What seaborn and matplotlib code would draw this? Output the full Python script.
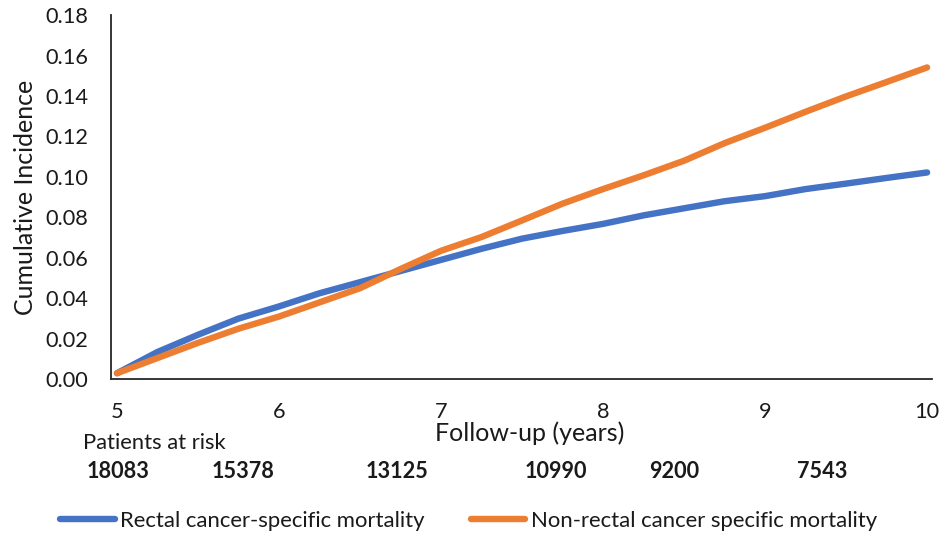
import matplotlib
matplotlib.use("Agg")
import matplotlib.pyplot as plt
import matplotlib.transforms as mtransforms
from matplotlib.lines import Line2D
import seaborn as sns
import pandas as pd

years = [5.00, 5.25, 5.50, 5.75, 6.00, 6.25, 6.50, 6.75, 7.00, 7.25, 7.50,
         7.75, 8.00, 8.25, 8.50, 8.75, 9.00, 9.25, 9.50, 9.75, 10.00]
rectal = [0.003, 0.0135, 0.022, 0.030, 0.036, 0.0425, 0.048, 0.0535, 0.059, 0.0645, 0.0695,
          0.0733, 0.0768, 0.081, 0.0845, 0.088, 0.0905, 0.094, 0.0967, 0.0995, 0.1022]
nonrectal = [0.003, 0.0105, 0.018, 0.025, 0.031, 0.038, 0.045, 0.0545, 0.0635, 0.0703, 0.0785,
             0.0868, 0.094, 0.1008, 0.108, 0.1167, 0.1243, 0.1322, 0.1398, 0.1469, 0.1541]
series_names = ["Rectal cancer-specific mortality", "Non-rectal cancer specific mortality"]
y_ticks = [0.00, 0.02, 0.04, 0.06, 0.08, 0.10, 0.12, 0.14, 0.16, 0.18]
x_ticks = [5, 6, 7, 8, 9, 10]
risk_positions = [5.006, 5.78, 6.73, 7.71, 8.44, 9.35]
risk_counts = ["18083", "15378", "13125", "10990", "9200", "7543"]

df = pd.DataFrame({
    "year": years * 2,
    "value": rectal + nonrectal,
    "series": [series_names[0]] * len(years) + [series_names[1]] * len(years),
})

sns.set_theme(style="white")
plt.rcParams["font.family"] = ["Lato", "DejaVu Sans"]

fig = plt.figure(figsize=(9.41, 5.37), dpi=100)
ax = fig.add_axes([0.1176, 0.2937, 0.8728, 0.6783])

palette = {series_names[0]: "#4472C4", series_names[1]: "#ED7D31"}
sns.lineplot(data=df, x="year", y="value", hue="series", palette=palette,
             linewidth=4.6, ax=ax, legend=False, solid_capstyle="round")

ax.set_xlim(4.961, 10.03)
ax.set_ylim(0, 0.18)
ax.set_yticks(y_ticks)
ax.set_yticklabels([f"{v:.2f}" for v in y_ticks])
ax.set_xticks(x_ticks)
ax.set_xticklabels([str(v) for v in x_ticks])
ax.tick_params(axis="both", length=0, labelsize=15.7, colors="#1a1a1a")
ax.tick_params(axis="y", pad=16)
ax.tick_params(axis="x", pad=16)

for s in ["top", "right"]:
    ax.spines[s].set_visible(False)
for s in ["left", "bottom"]:
    ax.spines[s].set_visible(True)
    ax.spines[s].set_color("#262626")
    ax.spines[s].set_linewidth(1.3)

ax.set_ylabel("Cumulative Incidence", fontsize=18, color="#1a1a1a")
ax.yaxis.label.set_va("center")
ax.yaxis.set_label_coords(-0.104, 0.5)
ax.set_xlabel("Follow-up (years)", fontsize=18, color="#1a1a1a")
ax.xaxis.label.set_va("center")
ax.xaxis.set_label_coords(0.5105, -0.147)

trans = mtransforms.blended_transform_factory(ax.transData, fig.transFigure)
fig.text(83 / 941, 1 - 443 / 537, "Patients at risk", fontsize=15.8,
         color="#1a1a1a", ha="left", va="center")
for xp, txt in zip(risk_positions, risk_counts):
    ax.text(xp, 1 - 471 / 537, txt, transform=trans, fontsize=15.6,
            fontweight="bold", ha="center", va="center", color="#1a1a1a")

handles = [Line2D([], [], color=palette[n], linewidth=4.6, solid_capstyle="round")
           for n in series_names]
fig.legend(handles, series_names, loc="center", bbox_to_anchor=(0.498, 1 - 521 / 537),
           ncol=2, frameon=False, fontsize=15.9, handlelength=2.45,
           handletextpad=0.25, columnspacing=2.1, labelcolor="#1a1a1a")

fig.savefig("out.png", dpi=100)
